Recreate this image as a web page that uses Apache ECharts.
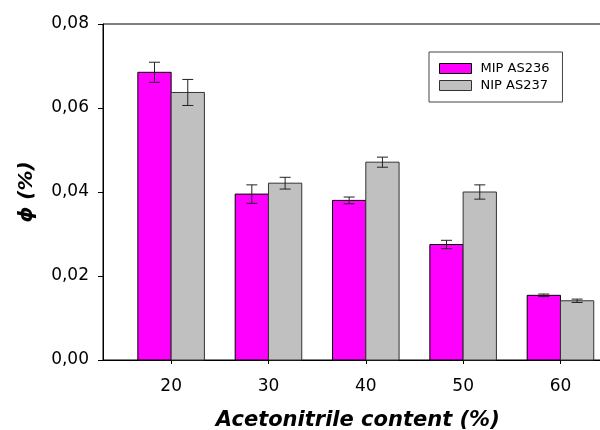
<!DOCTYPE html>
<html>
<head>
<meta charset="utf-8">
<script src="https://cdn.jsdelivr.net/npm/echarts@6/dist/echarts.min.js"></script>
<style>
  html, body { margin: 0; padding: 0; background: #ffffff; }
  #chart { width: 600px; height: 430px; }
</style>
</head>
<body>
<div id="chart"></div>
<script>
// Acetonitrile content (%) of the mobile phase
const acetonitrile = [20, 30, 40, 50, 60];
// phi (%) for the imprinted polymer and its standard deviation
const mipValues = [0.0685, 0.0395, 0.0380, 0.0275, 0.0154];
const mipErrors = [0.0024, 0.0022, 0.0008, 0.0010, 0.0003];
// phi (%) for the non-imprinted polymer and its standard deviation
const nipValues = [0.0637, 0.0421, 0.0471, 0.0400, 0.0141];
const nipErrors = [0.0031, 0.0014, 0.0012, 0.0017, 0.0004];
// Tick labels of both axes
const xTicks = [20, 30, 40, 50, 60];
const yTicks = [0, 0.02, 0.04, 0.06, 0.08];

const FONT = 'DejaVu Sans';
const BAR_SPAN = 3.42;   // width of one bar, in axis units
const CAP = 5.5;         // half width of the error bar caps, px

function barRenderer(side, fill, stroke) {
  return function (params, api) {
    const x = api.value(0), v = api.value(1), e = api.value(2);
    const x0 = side < 0 ? x - BAR_SPAN : x;
    const x1 = side < 0 ? x : x + BAR_SPAN;
    const tl = api.coord([x0, v]);
    const br = api.coord([x1, 0]);
    const cx = (tl[0] + br[0]) / 2;
    const hi = api.coord([x, v + e])[1];
    const lo = api.coord([x, v - e])[1];
    const errStyle = { stroke: '#222', lineWidth: 1 };
    return {
      type: 'group',
      children: [
        { type: 'rect', shape: { x: tl[0], y: tl[1], width: br[0] - tl[0], height: br[1] - tl[1] },
          style: { fill: fill, stroke: stroke, lineWidth: 1 } },
        { type: 'line', shape: { x1: cx, y1: hi, x2: cx, y2: lo }, style: errStyle },
        { type: 'line', shape: { x1: cx - CAP, y1: hi, x2: cx + CAP, y2: hi }, style: errStyle },
        { type: 'line', shape: { x1: cx - CAP, y1: lo, x2: cx + CAP, y2: lo }, style: errStyle }
      ]
    };
  };
}

const chart = echarts.init(document.getElementById('chart'), null, { renderer: 'canvas' });

chart.setOption({
  animation: false,
  backgroundColor: '#ffffff',
  grid: {
    left: 103, top: 24, width: 525.6, height: 336,
    outerBoundsMode: 'none',
    containLabel: false,
    show: true, borderColor: '#000', borderWidth: 1, backgroundColor: 'transparent'
  },
  legend: {
    orient: 'vertical',
    left: 429, top: 52,
    padding: [10, 13, 10, 10],
    itemGap: 4,
    itemWidth: 32, itemHeight: 10,
    borderColor: '#444', borderWidth: 1,
    backgroundColor: '#fff',
    selectedMode: false,
    textStyle: { fontFamily: FONT, fontSize: 13, color: '#000', padding: [0, 0, 0, 4] },
    data: [
      { name: 'MIP AS236', icon: 'rect', itemStyle: { color: '#ff00ff', borderColor: '#000', borderWidth: 1 } },
      { name: 'NIP AS237', icon: 'rect', itemStyle: { color: '#c0c0c0', borderColor: '#333', borderWidth: 1 } }
    ]
  },
  xAxis: {
    type: 'value',
    min: 13, max: 67,
    splitLine: { show: false },
    axisLine: { show: true, lineStyle: { color: '#000', width: 1 } },
    axisTick: { show: true, length: 4, inside: false, customValues: xTicks, lineStyle: { color: '#000' } },
    axisLabel: {
      customValues: xTicks, margin: 18,
      fontFamily: FONT, fontSize: 17, color: '#000'
    },
    name: 'Acetonitrile content (%)',
    nameLocation: 'middle',
    nameGap: 50,
    nameTextStyle: {
      fontFamily: FONT, fontSize: 21, fontWeight: 'bold', fontStyle: 'italic', color: '#000',
      padding: [0, 16, 0, 0]
    }
  },
  yAxis: {
    type: 'value',
    min: 0, max: 0.08,
    splitLine: { show: false },
    axisLine: { show: true, lineStyle: { color: '#000', width: 1 } },
    axisTick: { show: true, length: 5, customValues: yTicks, lineStyle: { color: '#000' } },
    axisLabel: {
      customValues: yTicks, margin: 14,
      fontFamily: FONT, fontSize: 17, color: '#000',
      formatter: v => v.toFixed(2).replace('.', ',')
    },
    name: '\u03d5 (%)',
    nameLocation: 'middle',
    nameRotate: 90,
    nameGap: 66,
    nameTextStyle: {
      fontFamily: FONT, fontSize: 20, fontWeight: 'bold', fontStyle: 'italic', color: '#000'
    }
  },
  series: [
    {
      name: 'MIP AS236',
      type: 'custom',
      itemStyle: { color: '#ff00ff', borderColor: '#000', borderWidth: 1 },
      encode: { x: 0, y: 1 },
      renderItem: barRenderer(-1, '#ff00ff', '#000'),
      data: acetonitrile.map((c, i) => [c, mipValues[i], mipErrors[i]])
    },
    {
      name: 'NIP AS237',
      type: 'custom',
      itemStyle: { color: '#c0c0c0', borderColor: '#333', borderWidth: 1 },
      encode: { x: 0, y: 1 },
      renderItem: barRenderer(1, '#c0c0c0', '#333'),
      data: acetonitrile.map((c, i) => [c, nipValues[i], nipErrors[i]])
    }
  ]
});
</script>
</body>
</html>
